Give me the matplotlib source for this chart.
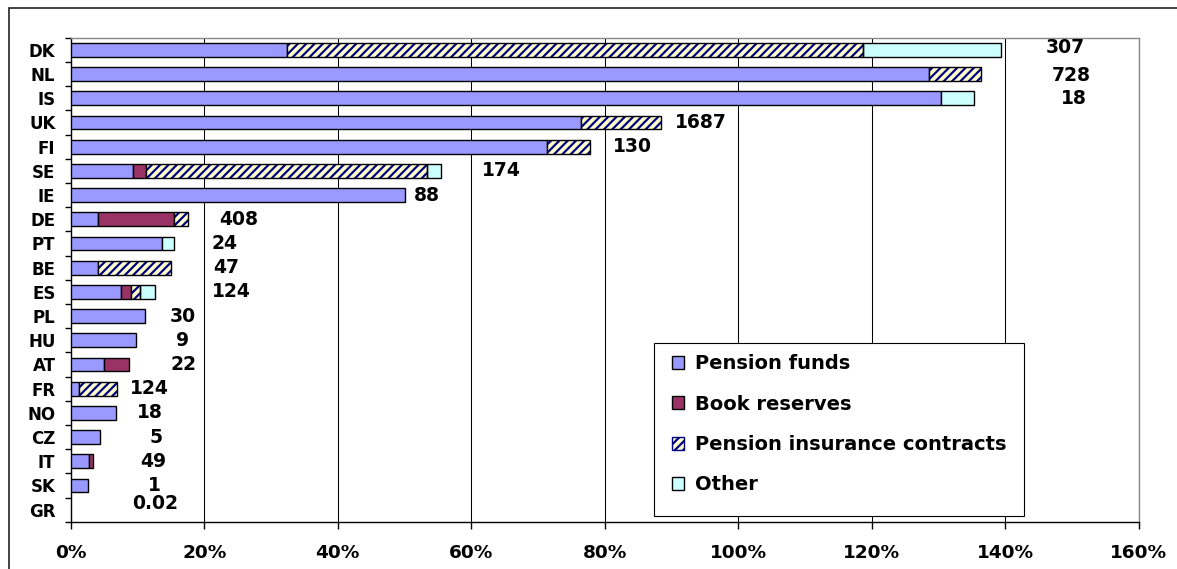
import numpy as np
import matplotlib
matplotlib.use("Agg")
import matplotlib.pyplot as plt
from matplotlib.patches import Patch, Rectangle
from matplotlib.ticker import FixedLocator, FuncFormatter

plt.rcParams['font.family'] = ['DejaVu Sans']
plt.rcParams['font.weight'] = 'bold'
plt.rcParams['hatch.linewidth'] = 1.6

# データ (% of GDP)
countries = ['DK', 'NL', 'IS', 'UK', 'FI', 'SE', 'IE', 'DE', 'PT', 'BE',
             'ES', 'PL', 'HU', 'AT', 'FR', 'NO', 'CZ', 'IT', 'SK', 'GR']
pension_funds = [32.4, 128.5, 130.3, 76.4, 71.4, 9.3, 50.1, 4.1, 13.7, 4.1,
                 7.6, 11.1, 9.7, 5.0, 1.2, 6.8, 4.4, 2.8, 2.6, 0.0]
book_reserves = [0, 0, 0, 0, 0, 1.9, 0, 11.4, 0, 0,
                 1.5, 0, 0, 3.8, 0, 0, 0, 0.5, 0, 0]
insurance = [86.3, 7.9, 0, 12.0, 6.4, 42.1, 0, 2.1, 0, 10.9,
             1.2, 0, 0, 0, 5.8, 0, 0, 0, 0, 0]
other = [20.6, 0, 5.0, 0, 0, 2.1, 0, 0, 1.8, 0,
         2.3, 0, 0, 0, 0, 0, 0, 0, 0, 0]

# 右側の数値ラベル
value_labels = ['307', '728', '18', '1687', '130', '174', '88', '408', '24', '47',
                '124', '30', '9', '22', '124', '18', '5', '49', '1', '0.02']
label_x = [148.9, 149.9, 150.3, 94.4, 84.1, 64.5, 53.3, 25.2, 23.0, 23.3,
           24.0, 16.8, 16.7, 16.9, 11.8, 11.9, 12.8, 12.4, 12.5, 12.6]
label_dy = [-0.08, 0.07, 0, 0, 0, 0, 0, 0, 0, 0,
            0, 0, 0, 0, 0, 0, 0, 0, 0, -0.25]

series_names = ['Pension funds', 'Book reserves', 'Pension insurance contracts', 'Other']
c_pf = '#9999FF'
c_br = '#993366'
c_ins_bg = '#FFFFCC'
c_ins_hatch = '#000080'
c_other = '#CCFFFF'

fig = plt.figure(figsize=(11.77, 5.69), dpi=100)
ax = fig.add_axes([0.0601, 0.0831, 0.9076, 0.8506])

y = np.arange(len(countries))
h = 0.57
pf = np.array(pension_funds)
br = np.array(book_reserves)
ins = np.array(insurance)
oth = np.array(other)


def seg(vals, left, **kw):
    # 値0の区間は描かない
    m = vals > 0
    ax.barh(y[m], vals[m], left=left[m], height=h, **kw)


zero = np.zeros(len(countries))
seg(pf, zero, color=c_pf, edgecolor='black', linewidth=1.0, zorder=3)
seg(br, pf, color=c_br, edgecolor='black', linewidth=1.0, zorder=3)
# 斜線部分: ハッチ色=edgecolor なので枠は別に描く
seg(ins, pf + br, color=c_ins_bg, edgecolor=c_ins_hatch, hatch='////', linewidth=0, zorder=3)
seg(ins, pf + br, facecolor='none', edgecolor='black', linewidth=1.0, zorder=4)
seg(oth, pf + br + ins, color=c_other, edgecolor='black', linewidth=1.0, zorder=3)

for i in range(len(countries)):
    ax.text(label_x[i], y[i] + label_dy[i], value_labels[i], ha='center', va='center',
            fontsize=13.5, fontweight='bold', zorder=5)

ax.set_xlim(0, 160)
ax.set_ylim(len(countries) - 0.5, -0.5)

ax.xaxis.set_major_locator(FixedLocator(np.arange(0, 161, 20)))
ax.xaxis.set_major_formatter(FuncFormatter(lambda v, p: '%d%%' % v))
ax.tick_params(axis='x', length=5, width=1, pad=11, labelsize=13.3)
ax.grid(axis='x', color='black', linewidth=0.75, zorder=0)

ax.set_yticks(y)
ax.set_yticklabels(countries)
ax.yaxis.set_minor_locator(FixedLocator(np.arange(-0.5, len(countries), 1)))
ax.tick_params(axis='y', which='major', length=0, pad=11, labelsize=12)
ax.tick_params(axis='y', which='minor', length=4, width=1)

for s in ['top', 'right']:
    ax.spines[s].set_color('#888888')
    ax.spines[s].set_linewidth(1.0)
for s in ['left', 'bottom']:
    ax.spines[s].set_color('black')
    ax.spines[s].set_linewidth(1.0)

# 凡例の枠（Excel風に下側に余白あり）
ax.add_patch(Rectangle((0.546, 0.011), 0.346, 0.358, transform=ax.transAxes,
                       facecolor='white', edgecolor='black', linewidth=0.8, zorder=6))

handles = [Patch(facecolor=c_pf, edgecolor='black'),
           Patch(facecolor=c_br, edgecolor='black'),
           Patch(facecolor=c_ins_bg, edgecolor=c_ins_hatch, hatch='////'),
           Patch(facecolor=c_other, edgecolor='black')]
leg = ax.legend(handles, series_names, loc='upper left',
                bbox_to_anchor=(0.5625, 0.346),
                fontsize=14, frameon=False,
                handlelength=0.66, handleheight=0.66, handletextpad=0.55,
                labelspacing=1.1, borderpad=0, borderaxespad=0)
leg.set_zorder(7)

# 外枠
fig.patches.append(Rectangle((8.5 / 1177, -0.02), 1.05, 1 - 7.5 / 569 + 0.02,
                             transform=fig.transFigure, fill=False,
                             edgecolor='#222222', linewidth=1.2))

fig.savefig('out.png', dpi=100)
